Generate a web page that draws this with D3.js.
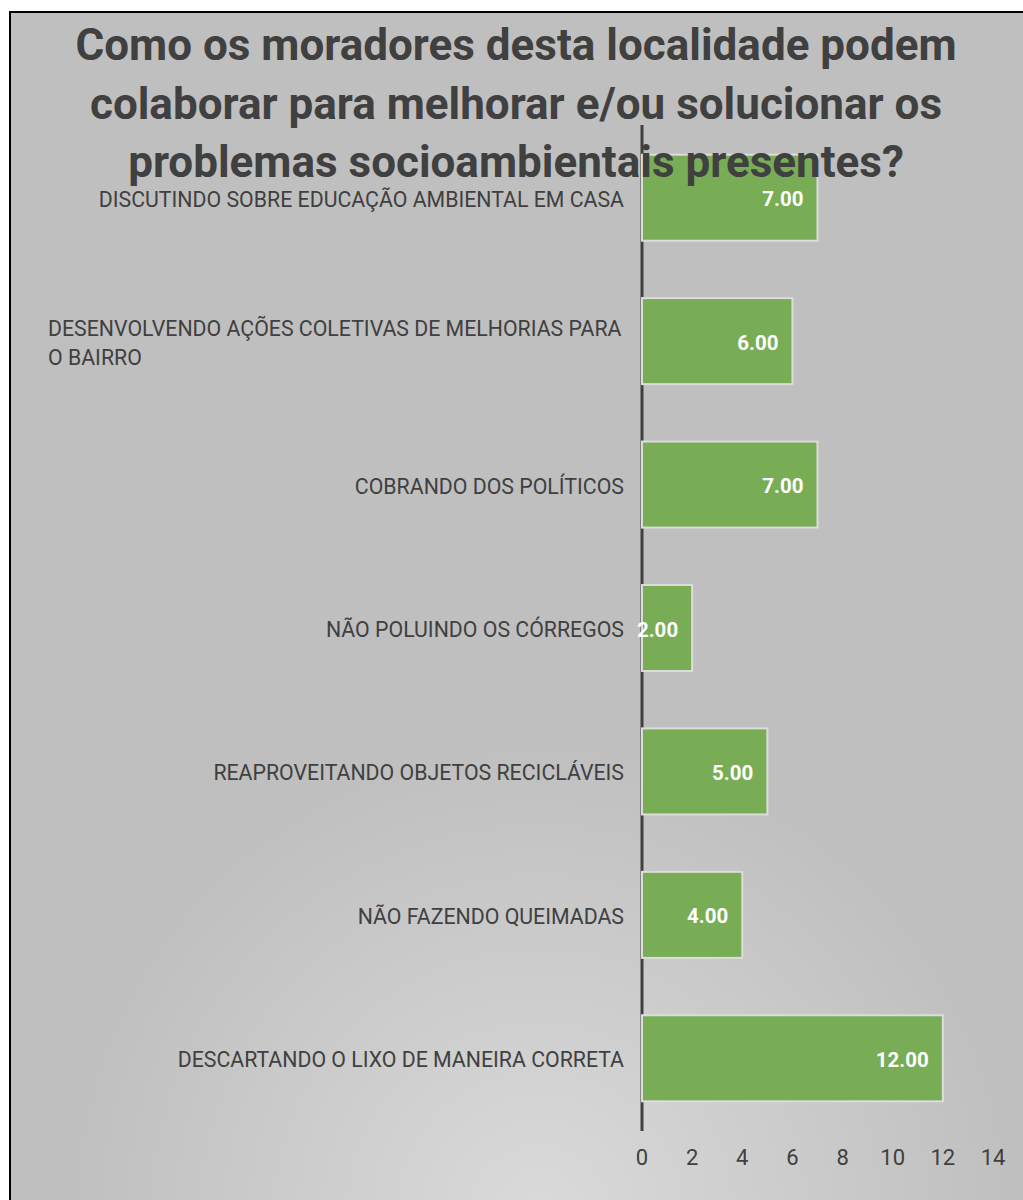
<!DOCTYPE html>
<html><head><meta charset="utf-8">
<script src="https://cdn.jsdelivr.net/npm/d3@7"></script>
<style>html,body{margin:0;padding:0;background:#fff;}svg{display:block;}</style>
</head><body>
<script>
const titleLines = ["Como os moradores desta localidade podem", "colaborar para melhorar e/ou solucionar os", "problemas socioambientais presentes?"];
const categories = [
  "DISCUTINDO SOBRE EDUCAÇÃO AMBIENTAL EM CASA",
  "DESENVOLVENDO AÇÕES COLETIVAS DE MELHORIAS PARA O BAIRRO",
  "COBRANDO DOS POLÍTICOS",
  "NÃO POLUINDO OS CÓRREGOS",
  "REAPROVEITANDO OBJETOS RECICLÁVEIS",
  "NÃO FAZENDO QUEIMADAS",
  "DESCARTANDO O LIXO DE MANEIRA CORRETA"
];
const labelLines = [
  ["DISCUTINDO SOBRE EDUCAÇÃO AMBIENTAL EM CASA"],
  ["DESENVOLVENDO AÇÕES COLETIVAS DE MELHORIAS PARA", "O BAIRRO"],
  ["COBRANDO DOS POLÍTICOS"],
  ["NÃO POLUINDO OS CÓRREGOS"],
  ["REAPROVEITANDO OBJETOS RECICLÁVEIS"],
  ["NÃO FAZENDO QUEIMADAS"],
  ["DESCARTANDO O LIXO DE MANEIRA CORRETA"]
];
const values = [7, 6, 7, 2, 5, 4, 12];
const xTicks = [0, 2, 4, 6, 8, 10, 12, 14];

const W = 1023, H = 1200;
const svg = d3.select("body").append("svg").attr("width", W).attr("height", H);
const defs = svg.append("defs");
const rg = defs.append("radialGradient").attr("id", "bg")
  .attr("gradientUnits", "userSpaceOnUse").attr("cx", 540).attr("cy", 1215).attr("r", 480);
rg.append("stop").attr("offset", "0%").attr("stop-color", "#dadada");
rg.append("stop").attr("offset", "100%").attr("stop-color", "#bfbfbf");

svg.append("rect").attr("x", 10).attr("y", 12).attr("width", W + 10).attr("height", H + 10)
  .attr("fill", "url(#bg)").attr("stroke", "#000").attr("stroke-width", 2);

const font = "Roboto, 'Open Sans', sans-serif";
const x = d3.scaleLinear().domain([0, 14]).range([642, 993]);
const y = d3.scaleBand().domain(categories).range([126, 1130]).paddingInner(0.4).paddingOuter(0.2);

// axis line
svg.append("line").attr("x1", x(0)).attr("x2", x(0)).attr("y1", 125).attr("y2", 1131)
  .attr("stroke", "#404040").attr("stroke-width", 3);

// bars
const g = svg.append("g");
g.selectAll("rect.bar").data(values).join("rect").attr("class", "bar")
  .attr("x", x(0)).attr("y", (d, i) => y(categories[i]))
  .attr("width", d => x(d) - x(0)).attr("height", y.bandwidth())
  .attr("fill", "#78ad56").attr("stroke", "#dcdcdc").attr("stroke-width", 2);

// value labels
g.selectAll("text.val").data(values).join("text").attr("class", "val")
  .attr("x", d => x(d) - 14).attr("y", (d, i) => y(categories[i]) + y.bandwidth() / 2)
  .attr("dy", "0.42em").attr("text-anchor", "end")
  .attr("font-family", font).attr("font-weight", "bold").attr("font-size", 20.5)
  .attr("fill", "#fff").text(d => d.toFixed(2));

// category labels
labelLines.forEach((lines, i) => {
  const cy = y(categories[i]) + y.bandwidth() / 2;
  if (lines.length === 1) {
    svg.append("text").attr("x", 624).attr("y", cy).attr("dy", "0.42em")
      .attr("text-anchor", "end").attr("font-family", font).attr("font-size", 21.3)
      .attr("fill", "#404040").text(lines[0]);
  } else {
    const t = svg.append("text").attr("font-family", font).attr("font-size", 21.3).attr("fill", "#404040");
    lines.forEach((l, j) => {
      t.append("tspan").attr("x", 48).attr("y", cy + (j - (lines.length - 1) / 2) * 29).attr("dy", "0.42em").text(l);
    });
  }
});

// x axis ticks
svg.append("g").selectAll("text").data(xTicks).join("text")
  .attr("x", d => x(d)).attr("y", 1157).attr("dy", "0.35em").attr("text-anchor", "middle")
  .attr("font-family", font).attr("font-size", 22).attr("fill", "#404040").text(d => d);

// title
svg.append("g").selectAll("text").data(titleLines).join("text")
  .attr("x", 516).attr("y", (d, i) => 45 + i * 58.5).attr("dy", "0.35em").attr("text-anchor", "middle")
  .attr("font-family", font).attr("font-weight", "bold").attr("font-size", 44)
  .attr("fill", "#404040").text(d => d);
</script>
</body></html>
